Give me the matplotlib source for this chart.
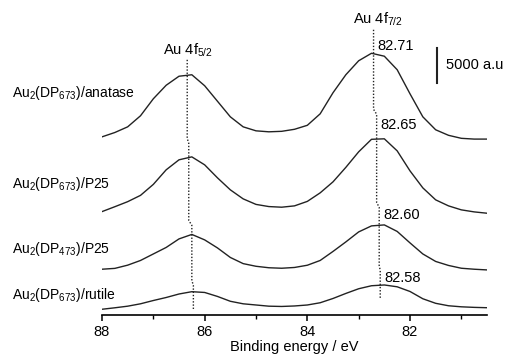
import numpy as np
import matplotlib
matplotlib.use('Agg')
import matplotlib.pyplot as plt

plt.rcParams['font.family'] = ['Liberation Sans', 'DejaVu Sans']
plt.rcParams['mathtext.fontset'] = 'custom'
plt.rcParams['mathtext.rm'] = 'Liberation Sans'
plt.rcParams['mathtext.it'] = 'Liberation Sans:italic'

# binding energy grid (eV)
energy = np.arange(88.0, 80.49, -0.25)

# stacked intensities (a.u.), top to bottom
anatase_673 = [25450, 26070, 26880, 28460, 30890, 32820, 34110, 34320, 32750, 30530,
               28310, 26880, 26310, 26170, 26240, 26530, 27100, 28740, 31750, 34320,
               36320, 37390, 36970, 35040, 31600, 28310, 26460, 25670, 25240, 25130, 25130]
p25_673 = [14770, 15470, 16190, 17090, 18660, 20740, 22170, 22590, 21450, 19590,
           17880, 16590, 15800, 15490, 15400, 15590, 16230, 17450, 19020, 21090,
           23310, 25100, 25170, 23450, 20590, 18160, 16450, 15590, 15020, 14730, 14540]
p25_473 = [6540, 6660, 7120, 7790, 8720, 9650, 10870, 11510, 10730, 9580,
           8220, 7340, 6960, 6750, 6680, 6790, 7110, 7790, 9080, 10440,
           11870, 12730, 12870, 11940, 10300, 8720, 7650, 7080, 6680, 6540, 6440]
rutile_673 = [820, 1030, 1260, 1600, 2070, 2500, 3000, 3330, 3220, 2650,
              1960, 1600, 1430, 1260, 1220, 1290, 1430, 1750, 2360, 3080,
              3750, 4180, 4290, 4030, 3360, 2320, 1670, 1320, 1170, 1090, 1040]

curves = [anatase_673, p25_673, p25_473, rutile_673]
names = [r'Au$_2$(DP$_{673}$)/anatase', r'Au$_2$(DP$_{673}$)/P25',
         r'Au$_2$(DP$_{473}$)/P25', r'Au$_2$(DP$_{673}$)/rutile']
name_y = [31200, 18100, 8900, 2250]

# peak positions (eV)
peak72 = [82.71, 82.65, 82.60, 82.58]
peak52 = [86.34, 86.31, 86.25, 86.22]
peak_label_y = [38470, 27170, 14300, 5290]

# where the dotted guide lines jog (a.u.)
breaks72 = [40750, 29030, 15730, 6720, 2430]
breaks52 = [36460, 24880, 13160, 4580, 720]

fig = plt.figure(figsize=(5.11, 3.64), dpi=100)
ax = fig.add_axes([102/511, 49/364, 385/511, 315/364])

for y in curves:
    ax.plot(energy, y, color='#222222', lw=1.0, solid_joinstyle='round')

for name, ny in zip(names, name_y):
    ax.text(89.75, ny, name, ha='left', va='baseline', fontsize=10, clip_on=False)


def guide(peaks, breaks):
    # dotted line through the peaks, with a small jog between spectra
    xs, ys = [], []
    d = 350
    for i, p in enumerate(peaks):
        top = breaks[i] if i == 0 else breaks[i] - d
        xs += [p, p]
        ys += [top, breaks[i+1] + (d if i < len(peaks)-1 else 0)]
    ax.plot(xs, ys, color='#222222', lw=1.0, ls=(0, (1, 1.3)))


guide(peak72, breaks72)
guide(peak52, breaks52)

for p, ly in zip(peak72, peak_label_y):
    ax.annotate('%.2f' % p, (p, ly), xytext=(3, 0), textcoords='offset points',
                ha='left', va='center', fontsize=10.5)

ax.text(82.63, 41600, r'Au 4f$_{7/2}$', ha='center', va='baseline', fontsize=10.5)
ax.text(86.33, 37180, r'Au 4f$_{5/2}$', ha='center', va='baseline', fontsize=10.5)

# scale bar
ax.plot([81.48, 81.48], [33140, 33140 + 5000], color='#222222', lw=1.5)
ax.text(81.29, 35700, '5000 a.u', ha='left', va='center', fontsize=10.5)

ax.set_xlim(88, 80.5)
ax.set_ylim(0, 45000)
for s in ['left', 'right', 'top']:
    ax.spines[s].set_visible(False)
ax.spines['bottom'].set_linewidth(1.2)
ax.set_yticks([])
ax.set_xticks([88, 86, 84, 82])
ax.set_xticks([87, 85, 83, 81], minor=True)
ax.tick_params(axis='x', which='major', length=4.5, width=1.1, labelsize=10.5, pad=2.5)
ax.tick_params(axis='x', which='minor', length=3, width=1.0)
ax.set_xlabel('Binding energy / eV', fontsize=10.5, labelpad=1)

fig.savefig('out.png', dpi=100)
